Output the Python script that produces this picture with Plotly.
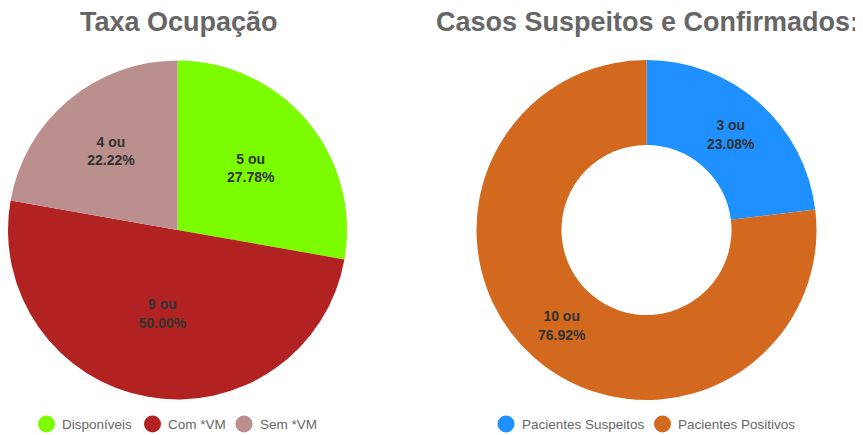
import plotly.graph_objects as go

occ_labels = ["Disponíveis", "Com *VM", "Sem *VM"]
occ_values = [5, 9, 4]
occ_colors = ["#7CFC00", "#B22222", "#BC8F8F"]

case_labels = ["Pacientes Suspeitos", "Pacientes Positivos"]
case_values = [3, 10]
case_colors = ["#1E90FF", "#D2691E"]

title_left = "Taxa Ocupação"
title_right = "Casos Suspeitos e Confirmados:"

W, H = 863, 435
OFF = 8  # page body margin
FONT = "Liberation Sans, Arial, sans-serif"


def X(sx):
    return (sx - OFF) / W


def Y(sy):
    return 1 - (sy - OFF) / H


fig = go.Figure()

common = dict(
    sort=False, direction="clockwise", rotation=0,
    texttemplate="%{value} ou<br>%{percent:.2%}",
    textposition="inside", insidetextorientation="horizontal",
    textfont=dict(family=FONT, size=14, color="#333333", weight="bold"),
    showlegend=False, hoverinfo="label+value+percent",
)

fig.add_trace(go.Pie(
    labels=occ_labels, values=occ_values,
    marker=dict(colors=occ_colors, line=dict(width=0)),
    domain=dict(x=[X(8), X(347)], y=[Y(400), Y(60)]),
    **common,
))
fig.add_trace(go.Pie(
    labels=case_labels, values=case_values, hole=0.5,
    marker=dict(colors=case_colors, line=dict(width=0)),
    domain=dict(x=[X(476.5), X(816.5)], y=[Y(400), Y(60)]),
    **common,
))

# custom legends (circle markers)
shapes, annotations = [], []
leg_y = 424
r = 8.5
legend_slots = [
    (occ_labels, occ_colors, [46.5, 152.5, 244]),
    (case_labels, case_colors, [506, 662.5]),
]
for labels, colors, centers in legend_slots:
    for lab, col, cx in zip(labels, colors, centers):
        shapes.append(dict(type="circle", xref="paper", yref="paper",
                           x0=X(cx - r), x1=X(cx + r), y0=Y(leg_y + r), y1=Y(leg_y - r),
                           fillcolor=col, line=dict(width=0)))
        annotations.append(dict(text=lab, x=X(cx + 13.5), y=Y(leg_y), xref="paper", yref="paper",
                                showarrow=False, xanchor="left", yanchor="middle",
                                font=dict(family=FONT, size=13.5, color="#666666")))

annotations += [
    dict(text=title_left, x=X(178.5), y=Y(22), xref="paper", yref="paper",
         showarrow=False, xanchor="center", yanchor="middle",
         font=dict(family=FONT, size=27, color="#666666", weight="bold")),
    dict(text=title_right, x=X(647), y=Y(22), xref="paper", yref="paper",
         showarrow=False, xanchor="center", yanchor="middle",
         font=dict(family=FONT, size=27, color="#666666", weight="bold")),
]

fig.update_layout(
    width=W, height=H,
    margin=dict(l=0, r=0, t=0, b=0),
    paper_bgcolor="white", plot_bgcolor="white",
    showlegend=False,
    shapes=shapes,
    annotations=annotations,
)

fig.write_html("out.html")
